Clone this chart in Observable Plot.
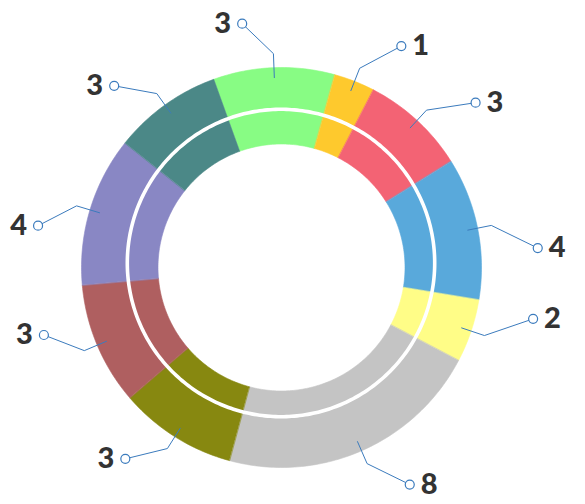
<!DOCTYPE html>
<html><head><meta charset="utf-8">
<script src="https://cdn.jsdelivr.net/npm/d3@7"></script>
<script src="https://cdn.jsdelivr.net/npm/@observablehq/plot@0.6"></script>
<style>html,body{margin:0;padding:0;background:#fff}</style>
</head><body><div id="chart"></div>
<script>
// ---- data (clockwise, starting with the light-green slice) ----
const slices = ["S1", "S2", "S3", "S4", "S5", "S6", "S7", "S8", "S9", "S10"];
const labels = ["3", "1", "3", "4", "2", "8", "3", "3", "4", "3"];
// share of the ring (percent)
const shares = [9.8, 3.3, 8.5, 11.5, 5.1, 21.5, 9.5, 9.9, 12.1, 8.8];
const palette = ["#88fc84", "#fec92d", "#f36374", "#59a9db", "#fffd87", "#c4c4c4", "#878810", "#af5f60", "#8987c4", "#4b8887"];

// ---- layout ----
const W = 585, H = 504, CX = 281, CY = 267, R = 200;
const startDeg = -19.8;
const rIn = 123.5 / R, rOut = 1;
const ringR = 153.7 / R, ringDx = -0.5 / R, ringDy = 4.5 / R;
const lineColor = "#3b7bbd";

const rad = d => d * Math.PI / 180;
const pt = (deg, r) => [r * Math.sin(rad(deg)), r * Math.cos(rad(deg))];

const total = d3.sum(shares);
let acc = startDeg;
const arcs = slices.map((key, i) => {
  const a0 = acc, a1 = acc + shares[i] / total * 360;
  acc = a1;
  return {key, label: labels[i], a0, a1, mid: (a0 + a1) / 2};
});

// slice polygons
const slicePts = [];
for (const a of arcs) {
  const n = Math.max(4, Math.ceil(a.a1 - a.a0));
  for (let k = 0; k <= n; k++) { const [x, y] = pt(a.a0 + (a.a1 - a.a0) * k / n, rOut); slicePts.push({key: a.key, x, y}); }
  for (let k = n; k >= 0; k--) { const [x, y] = pt(a.a0 + (a.a1 - a.a0) * k / n, rIn); slicePts.push({key: a.key, x, y}); }
}

// white separating ring
const ringPts = d3.range(0, 360, 1).map(d => { const [x, y] = pt(d, ringR); return {x: x + ringDx, y: y + ringDy}; });

// leader lines: radial start & elbow at slice mid-angle, end bent toward the horizontal
const leaderPts = [], ends = [];
for (const a of arcs) {
  const m = ((a.mid % 360) + 360) % 360;
  const toward = (m < 90 || (m >= 180 && m < 270)) ? 1 : -1;
  const endDeg = a.mid + 7 * toward;
  const rEnd = 1.235 + 0.05 * Math.max(0, Math.sin(rad(endDeg)));
  const [x0, y0] = pt(a.mid, 0.95);
  const [x1, y1] = pt(a.mid, 1.07);
  const [x2, y2] = pt(endDeg, rEnd);
  leaderPts.push({key: a.key, x: x0, y: y0}, {key: a.key, x: x1, y: y1}, {key: a.key, x: x2, y: y2});
  ends.push({key: a.key, label: a.label, x: x2, y: y2, right: x2 >= 0});
}

const textStyle = {fontSize: 29, fontWeight: 900, fontFamily: "Lato, 'Open Sans', sans-serif", fill: "#333333"};

const chart = Plot.plot({
  width: W, height: H, margin: 0,
  x: {domain: [-CX / R, (W - CX) / R], axis: null},
  y: {domain: [-(H - CY) / R, CY / R], axis: null},
  color: {type: "ordinal", domain: slices, range: palette},
  marks: [
    Plot.line(slicePts, {x: "x", y: "y", z: "key", fill: "key", stroke: "key", strokeWidth: 0.6, curve: "linear-closed"}),
    Plot.line(ringPts, {x: "x", y: "y", stroke: "white", strokeWidth: 3.6, curve: "linear-closed"}),
    Plot.line(leaderPts, {x: "x", y: "y", z: "key", stroke: lineColor, strokeWidth: 1}),
    Plot.dot(ends, {x: "x", y: "y", r: 4.5, stroke: lineColor, fill: "white", strokeWidth: 1.2}),
    Plot.text(ends.filter(d => d.right), {x: "x", y: "y", text: "label", textAnchor: "start", dx: 11, ...textStyle}),
    Plot.text(ends.filter(d => !d.right), {x: "x", y: "y", text: "label", textAnchor: "end", dx: -11, ...textStyle})
  ]
});
document.getElementById("chart").append(chart);
</script>
</body></html>
